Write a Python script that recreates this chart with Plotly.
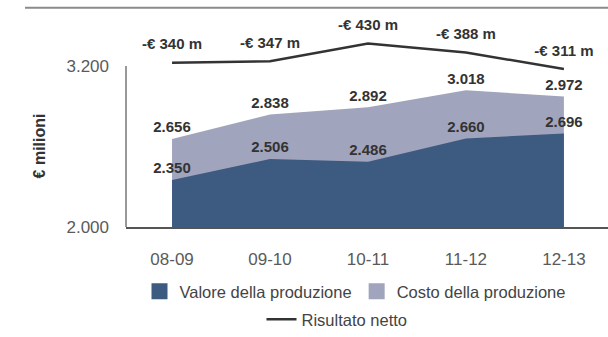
import plotly.graph_objects as go

# Dati (milioni di euro)
periodi = ["08-09", "09-10", "10-11", "11-12", "12-13"]
valore_produzione = [2350, 2506, 2486, 2660, 2696]
costo_produzione = [2656, 2838, 2892, 3018, 2972]
risultato_netto = [-340, -347, -430, -388, -311]

y_tick_vals = [2000, 3200]
y_tick_text = ["2.000", "3.200"]

BLU = "#3d5a80"
GRIGIO_BLU = "#a1a4bd"
LINEA = "#333333"
TESTO = "#333333"
TESTO_CHIARO = "#5a5a5a"
FONT = "Liberation Sans, Arial, Helvetica, sans-serif"


def fmt_migliaia(v):
    return f"{v:,}".replace(",", ".")


def fmt_risultato(v):
    return f"-€ {abs(v)} m" if v < 0 else f"€ {v} m"


fig = go.Figure()

# Aree sovrapposte: costo dietro, valore davanti
fig.add_trace(go.Scatter(
    x=periodi, y=costo_produzione, mode="lines", fill="tozeroy",
    fillcolor=GRIGIO_BLU, line=dict(width=0, color=GRIGIO_BLU),
    showlegend=False, hoverinfo="skip"))
fig.add_trace(go.Scatter(
    x=periodi, y=valore_produzione, mode="lines", fill="tozeroy",
    fillcolor=BLU, line=dict(width=0, color=BLU),
    showlegend=False, hoverinfo="skip"))

# Etichette dei valori (marker invisibile per distanziare il testo)
bold = dict(family=FONT, size=15, color=TESTO, weight="bold")
ghost = dict(size=3, opacity=0)
fig.add_trace(go.Scatter(
    x=periodi, y=costo_produzione, mode="markers+text", marker=ghost,
    text=[fmt_migliaia(v) for v in costo_produzione],
    textposition="top center", textfont=bold,
    showlegend=False, hoverinfo="skip"))
fig.add_trace(go.Scatter(
    x=periodi, y=valore_produzione, mode="markers+text", marker=ghost,
    text=[fmt_migliaia(v) for v in valore_produzione],
    textposition="top center", textfont=bold,
    showlegend=False, hoverinfo="skip"))

# Risultato netto su asse secondario (perdite verso l'alto)
fig.add_trace(go.Scatter(
    x=periodi, y=risultato_netto, yaxis="y2", mode="lines",
    line=dict(color=LINEA, width=2.5), name="Risultato netto",
    legend="legend2", hoverinfo="skip"))
fig.add_trace(go.Scatter(
    x=periodi, y=risultato_netto, yaxis="y2", mode="markers+text",
    marker=dict(size=14, opacity=0),
    text=[fmt_risultato(v) for v in risultato_netto],
    textposition="top center", textfont=bold,
    showlegend=False, hoverinfo="skip"))

# Voci di legenda con simbolo quadrato
fig.add_trace(go.Scatter(
    x=[periodi[0]], y=[None], mode="markers", name="Valore della produzione",
    marker=dict(symbol="square", size=16, color=BLU), legend="legend"))
fig.add_trace(go.Scatter(
    x=[periodi[0]], y=[None], mode="markers", name="Costo della produzione",
    marker=dict(symbol="square", size=16, color=GRIGIO_BLU), legend="legend"))

L, R, T, B = 126, 0, 20, 105
W, H = 608, 337
plot_w = W - L - R
plot_h = H - T - B
y_bottom_px = H - B


def paper_x(px):
    return (px - L) / plot_w


def paper_y(py):
    return (y_bottom_px - py) / plot_h


# Scala del risultato: -430 vicino al bordo alto, 0.22 px per milione
px_per_m = 0.22
top_val = -430 - (44 - T) / px_per_m
bottom_val = -430 + (y_bottom_px - 44) / px_per_m

fig.update_layout(
    width=W, height=H,
    margin=dict(l=L, r=R, t=T, b=B),
    paper_bgcolor="white", plot_bgcolor="white",
    font=dict(family=FONT, color=TESTO_CHIARO),
    xaxis=dict(
        type="category", categoryorder="array", categoryarray=periodi,
        range=[-0.47, 4.45], showgrid=False, zeroline=False,
        showline=True, linecolor="#555555", linewidth=2,
        ticks="", ticklabelstandoff=16,
        tickfont=dict(size=17, color=TESTO_CHIARO)),
    yaxis=dict(
        range=[2000, 3541.8], showgrid=False, zeroline=False,
        showline=False, ticks="",
        tickvals=y_tick_vals, ticktext=y_tick_text,
        ticklabelstandoff=16,
        tickfont=dict(size=17, color=TESTO_CHIARO)),
    yaxis2=dict(
        overlaying="y", range=[bottom_val, top_val], visible=False),
    shapes=[
        dict(type="line", xref="paper", yref="y", x0=0, x1=0,
             y0=y_tick_vals[0], y1=y_tick_vals[-1],
             line=dict(color="#777777", width=1.5)),
        dict(type="line", xref="paper", yref="paper",
             x0=paper_x(25), x1=1, y0=paper_y(7.5), y1=paper_y(7.5),
             line=dict(color="#8a8a8a", width=2)),
    ],
    annotations=[
        dict(text="<b>€ milioni</b>", xref="paper", yref="y",
             x=0, xshift=-(L - 39), xanchor="center", yanchor="middle",
             y=2600, textangle=-90,
             showarrow=False, font=dict(size=16, color=TESTO)),
    ],
    legend=dict(
        orientation="h", x=paper_x(355), xanchor="center",
        y=paper_y(298), yanchor="middle",
        font=dict(size=16.5, color="#444444"), bgcolor="rgba(0,0,0,0)"),
    legend2=dict(
        orientation="h", x=paper_x(337), xanchor="center",
        y=paper_y(327), yanchor="middle",
        font=dict(size=16.5, color="#444444"), bgcolor="rgba(0,0,0,0)"),
)

fig.write_html("out.html")
